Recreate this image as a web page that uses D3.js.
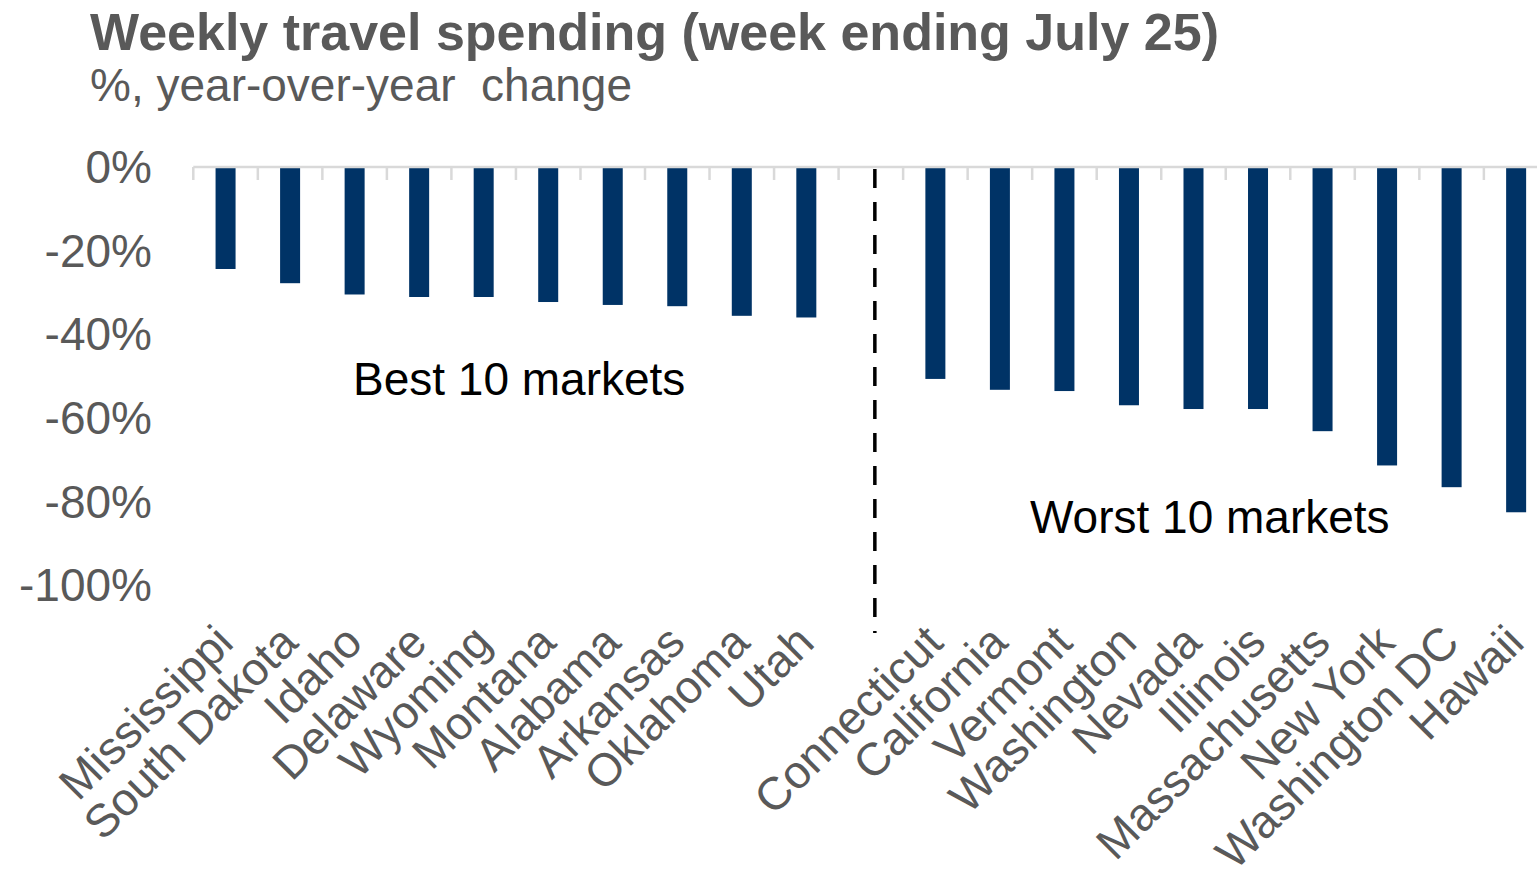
<!DOCTYPE html>
<html>
<head>
<meta charset="utf-8">
<script src="https://cdn.jsdelivr.net/npm/d3@7"></script>
<style>
  html, body { margin: 0; padding: 0; background: #fff; }
  svg { display: block; font-family: "Liberation Sans", Arial, sans-serif; }
</style>
</head>
<body>
<svg id="chart" width="1537" height="869"></svg>
<script>
// Year-over-year change in weekly travel spending, by state
const bestStates = ["Mississippi", "South Dakota", "Idaho", "Delaware", "Wyoming",
                    "Montana", "Alabama", "Arkansas", "Oklahoma", "Utah"];
const bestValues = [-24.4, -27.8, -30.5, -31.1, -31.1, -32.3, -33.0, -33.3, -35.6, -36.0];

const worstStates = ["Connecticut", "California", "Vermont", "Washington", "Nevada",
                     "Illinois", "Massachusetts", "New York", "Washington DC", "Hawaii"];
const worstValues = [-50.7, -53.3, -53.6, -57.0, -57.9, -57.9, -63.2, -71.4, -76.6, -82.6];

const yTicks = [0, -20, -40, -60, -80, -100];

const titleText = "Weekly travel spending (week ending July 25)";
const subtitleText = "%, year-over-year\u00a0 change";

// One empty slot separates the two groups
const GAP = "__gap__";
const slots = [...bestStates, GAP, ...worstStates];
const rows = [
  ...bestStates.map((s, i) => ({ state: s, value: bestValues[i] })),
  ...worstStates.map((s, i) => ({ state: s, value: worstValues[i] }))
];

const svg = d3.select("#chart");
const grey = "#595959";

const x = d3.scaleBand().domain(slots).range([193.3, 1548.4]).padding(0);
const barFrac = 0.31;
const y = d3.scaleLinear().domain([0, -100]).range([167, 585]);

// Title block
svg.append("text")
  .attr("x", 90).attr("y", 50)
  .attr("fill", grey)
  .attr("font-size", 52).attr("font-weight", "bold")
  .text(titleText);
svg.append("text")
  .attr("x", 90).attr("y", 101)
  .attr("fill", grey)
  .attr("font-size", 46)
  .text(subtitleText);

// Value axis labels
svg.append("g").selectAll("text")
  .data(yTicks)
  .join("text")
  .attr("x", 152)
  .attr("y", d => y(d))
  .attr("dy", "0.35em")
  .attr("text-anchor", "end")
  .attr("fill", grey)
  .attr("font-size", 46)
  .text(d => d + "%");

// Bars
svg.append("g").selectAll("rect")
  .data(rows)
  .join("rect")
  .attr("x", d => x(d.state) + x.bandwidth() * (1 - barFrac) / 2)
  .attr("width", x.bandwidth() * barFrac)
  .attr("y", y(0))
  .attr("height", d => y(d.value) - y(0))
  .attr("fill", "#003366");

// Category axis: baseline with tick marks between slots
const axisG = svg.append("g");
axisG.append("line")
  .attr("x1", x.range()[0]).attr("x2", x.range()[1])
  .attr("y1", y(0)).attr("y2", y(0))
  .attr("stroke", "#d9d9d9").attr("stroke-width", 2.5);
const boundaries = slots.map(s => x(s)).concat([x.range()[1]]);
axisG.selectAll("line.tick")
  .data(boundaries)
  .join("line")
  .attr("class", "tick")
  .attr("x1", d => d).attr("x2", d => d)
  .attr("y1", y(0)).attr("y2", y(0) + 13)
  .attr("stroke", "#d9d9d9").attr("stroke-width", 2.5);

// Rotated state labels
svg.append("g").selectAll("text")
  .data(rows)
  .join("text")
  .attr("transform", d => {
    const cx = x(d.state) + x.bandwidth() / 2 + 10;
    return `translate(${cx},645) rotate(-45)`;
  })
  .attr("text-anchor", "end")
  .attr("fill", grey)
  .attr("font-size", 46)
  .text(d => d.state);

// Divider between the two groups
const gx = x(GAP) + x.bandwidth() / 2 + 4;
svg.append("line")
  .attr("x1", gx).attr("x2", gx)
  .attr("y1", y(0) + 2).attr("y2", 633)
  .attr("stroke", "#000").attr("stroke-width", 3.5)
  .attr("stroke-dasharray", "19,14");

// Group annotations
svg.append("text")
  .attr("x", 353).attr("y", y(-54.5))
  .attr("fill", "#000").attr("font-size", 46)
  .text("Best 10 markets");
svg.append("text")
  .attr("x", 1030).attr("y", y(-87.6))
  .attr("fill", "#000").attr("font-size", 46)
  .text("Worst 10 markets");
</script>
</body>
</html>
